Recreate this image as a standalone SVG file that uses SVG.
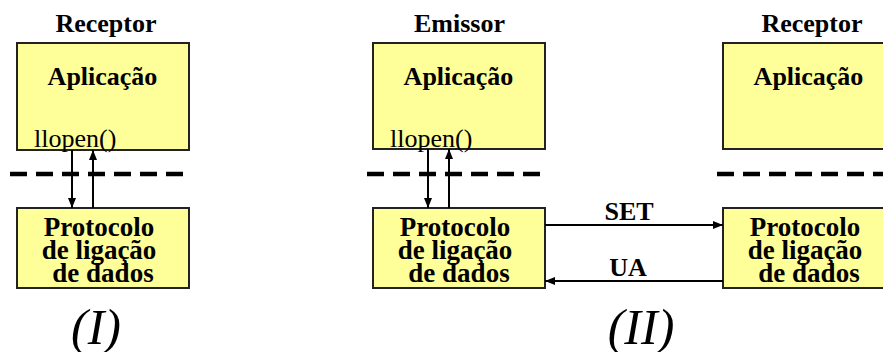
<svg xmlns="http://www.w3.org/2000/svg" width="883" height="352" viewBox="0 0 883 352">
<defs>
<style>
text{font-family:'Liberation Serif','DejaVu Serif',serif}
.box{fill:#FFFF99;stroke:#222;stroke-width:2}
.b{font-weight:bold;font-size:26px;fill:#000;text-anchor:middle}
.p{font-weight:bold;font-size:27px;fill:#000;text-anchor:middle}
.r{font-size:26px;fill:#000}
.big{font-style:italic;font-size:50px;fill:#000;text-anchor:middle}
.dash{stroke:#000;stroke-width:4.5;stroke-dasharray:17 9;fill:none}
.arr{stroke:#000;stroke-width:2;fill:none;marker-end:url(#ah)}
</style>
<marker id="ah" markerUnits="userSpaceOnUse" markerWidth="10" markerHeight="8" refX="10" refY="4" orient="auto">
<path d="M0,0 L10,4 L0,8 z" fill="#000"/>
</marker>
</defs>
<rect width="883" height="352" fill="#fff"/>

<g id="receptor1">
<text class="b" x="106" y="32" font-family="Liberation Serif">Receptor</text>
</g>
<g id="app1">
<rect class="box" x="17" y="43" width="172" height="107"/>
<text class="b" x="102.5" y="85">Aplicação</text>
<text class="r" x="34" y="147">llopen()</text>
</g>
<g id="proto1">
<rect class="box" x="17" y="208" width="172" height="80"/>
<text class="p" x="99" y="236">Protocolo</text>
<text class="p" x="99" y="259">de ligação</text>
<text class="p" x="103" y="282">de dados</text>
</g>

<g id="emissor">
<text class="b" x="459.5" y="32">Emissor</text>
</g>
<g id="app2">
<rect class="box" x="373" y="43" width="172" height="106"/>
<text class="b" x="458.5" y="85">Aplicação</text>
<text class="r" x="390" y="147">llopen()</text>
</g>
<g id="proto2">
<rect class="box" x="373" y="208" width="172" height="80"/>
<text class="p" x="455" y="236">Protocolo</text>
<text class="p" x="455" y="259">de ligação</text>
<text class="p" x="459" y="282">de dados</text>
</g>

<g id="receptor2">
<text class="b" x="812" y="32">Receptor</text>
</g>
<g id="app3">
<rect class="box" x="723" y="43" width="172" height="106"/>
<text class="b" x="808.5" y="85">Aplicação</text>
</g>
<g id="proto3">
<rect class="box" x="723" y="208" width="172" height="80"/>
<text class="p" x="805" y="236">Protocolo</text>
<text class="p" x="805" y="259">de ligação</text>
<text class="p" x="809" y="282">de dados</text>
</g>

<g id="separators">
<line class="dash" x1="10" y1="174" x2="185" y2="174"/>
<line class="dash" x1="367" y1="174" x2="540" y2="174"/>
<line class="dash" x1="717" y1="174" x2="895" y2="174"/>
</g>

<g id="connectors">
<line class="arr" x1="72" y1="150" x2="72" y2="208"/>
<line class="arr" x1="93" y1="208" x2="93" y2="150"/>
<line class="arr" x1="428" y1="149" x2="428" y2="208"/>
<line class="arr" x1="449" y1="208" x2="449" y2="149"/>
<line class="arr" x1="545" y1="225" x2="723" y2="225"/>
<line class="arr" x1="723" y1="281" x2="545" y2="281"/>
<text class="b" x="629" y="220">SET</text>
<text class="b" x="628" y="276">UA</text>
</g>

<g id="labels">
<text class="big" x="96" y="344">(I)</text>
<text class="big" x="641" y="344">(II)</text>
</g>
</svg>
